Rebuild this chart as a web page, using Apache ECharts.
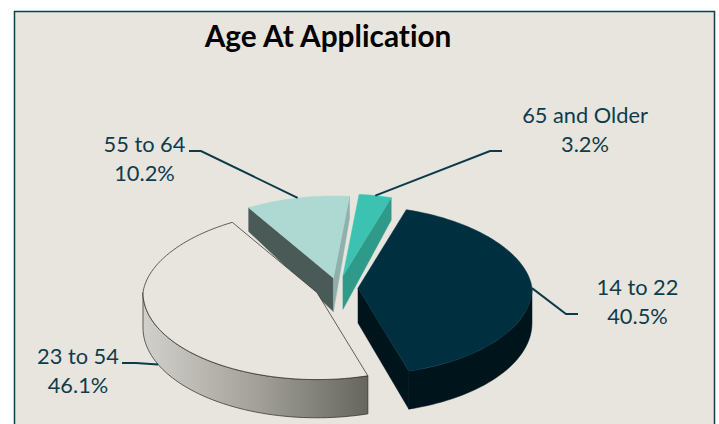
<!DOCTYPE html>
<html>
<head>
<meta charset="utf-8">
<title>Age At Application</title>
<script src="https://cdn.jsdelivr.net/npm/echarts@6/dist/echarts.min.js"></script>
<style>
    html, body { margin: 0; padding: 0; background: #ffffff; }
    #myChart { width: 719px; height: 424px; }
    /* Lato joins "ti" otherwise */
    #myChart text { font-variant-ligatures: none; }
</style>
</head>
<body>
<div id="myChart"></div>
<script>
    // clockwise from the first slice
    var categories = ['14 to 22', '23 to 54', '55 to 64', '65 and Older'];
    var shares = [40.5, 46.1, 10.2, 3.2];

    // layout of the fake 3d pie, all in px
    var pie = { cx: 338, cy: 288, rx: 174, ryBack: 82, ryFront: 87, startAngle: 17.2 };
    var explode = [20, 23, 21, 25];
    var labelPos = [[637.5, 301], [78, 370], [144.5, 158], [585, 129]];
    var elbows = [[[578, 314], [566, 314]], [[122, 363], [136, 363]], [[189, 151], [201, 151]], [[502, 151], [490, 151]]];

    var topColors = ['#003040', '#e8e5df', '#aed8d2', '#3cc2b0'];
    var wallColors = ['#00141c', null, null, null];
    var startFaceColors = [null, null, '#4a5a57', null];
    var endFaceColors = ['#00141c', null, '#8fb0ac', '#2f9a8a'];
    var lineColor = '#0b3b4b';

    var rad = Math.PI / 180;

    // slice angles, growing clockwise from 12 o'clock
    var angles = [];
    var cur = pie.startAngle;
    shares.forEach(function (v) {
        angles.push([cur, cur + v * 3.6]);
        cur += v * 3.6;
    });

    function rimPoint(c, a) {
        var s = Math.sin(a * rad), co = Math.cos(a * rad);
        // back of the pie is a bit narrower, perspective
        var shrink = 1 - 0.065 * Math.max(0, co);
        return [c[0] + pie.rx * s * shrink, c[1] - (co > 0 ? pie.ryBack : pie.ryFront) * co];
    }

    // walls get taller towards the viewer
    function drop(p) {
        var dy = p[1] - pie.cy;
        var d = dy < 0 ? 35 + dy * 0.14 : 35 + dy * 0.035;
        return [p[0], p[1] + d];
    }

    function arc(c, a0, a1) {
        var pts = [];
        var n = Math.max(2, Math.ceil((a1 - a0) / 2));
        for (var i = 0; i <= n; i++) {
            pts.push(rimPoint(c, a0 + (a1 - a0) * i / n));
        }
        return pts;
    }

    function poly(points, fill, outline) {
        return {
            type: 'polygon',
            shape: { points: points },
            style: {
                fill: fill,
                stroke: outline ? 'rgba(50,50,45,0.75)' : (typeof fill === 'string' ? fill : null),
                lineWidth: outline ? 1 : 0.5
            }
        };
    }

    function renderSlice(params, api) {
        var i = api.value(0);
        var a0 = angles[i][0], a1 = angles[i][1], mid = (a0 + a1) / 2;
        var c = [
            pie.cx + explode[i] * Math.sin(mid * rad),
            pie.cy - explode[i] * Math.cos(mid * rad) * 0.49
        ];
        var outline = i === 1;
        var children = [];
        var rim = arc(c, a0, a1);

        if (Math.sin(a0 * rad) < 0 && startFaceColors[i]) {
            var p0 = rimPoint(c, a0);
            children.push(poly([c, p0, drop(p0), drop(c)], startFaceColors[i]));
        }
        if (Math.sin(a1 * rad) > 0 && endFaceColors[i]) {
            var p1 = rimPoint(c, a1);
            children.push(poly([c, p1, drop(p1), drop(c)], endFaceColors[i]));
        }

        // outer wall, only the part turned to the viewer
        var w0 = Math.max(a0, 90), w1 = Math.min(a1, 270);
        if (w1 > w0) {
            var wallTop = arc(c, w0, w1);
            var wallBottom = wallTop.map(drop).reverse();
            var fill = wallColors[i] || new echarts.graphic.LinearGradient(0, 0, 1, 0, [
                { offset: 0, color: '#d2d0ca' },
                { offset: 0.5, color: '#a3a19a' },
                { offset: 1, color: '#66665e' }
            ]);
            children.push(poly(wallTop.concat(wallBottom), fill, outline));
        }

        children.push(poly([c].concat(rim), topColors[i], outline));

        // leader line and label
        var anchor = rimPoint(c, mid);
        if (Math.cos(mid * rad) < -0.1) anchor = drop(anchor);
        children.push({
            type: 'polyline',
            shape: { points: [elbows[i][0], elbows[i][1], anchor] },
            style: { fill: null, stroke: lineColor, lineWidth: 2 }
        });
        children.push({
            type: 'text',
            style: {
                text: categories[i] + '\n' + shares[i].toFixed(1) + '%',
                x: labelPos[i][0],
                y: labelPos[i][1],
                align: 'center',
                verticalAlign: 'middle',
                fill: '#0e3c4c',
                font: '21.8px Lato',
                lineHeight: 29.5
            }
        });
        return { type: 'group', children: children };
    }

    // painted back to front
    var drawOrder = categories.map(function (c, i) { return [i]; }).reverse();

    var myChart = echarts.init(document.getElementById('myChart'), null, { renderer: 'svg' });
    var option = {
        animation: false,
        backgroundColor: '#ffffff',
        title: {
            text: 'Age At Application',
            left: 323,
            top: 15,
            textAlign: 'center',
            textStyle: {
                color: '#000000',
                fontFamily: 'Lato',
                fontWeight: 'bold',
                fontSize: 29.8
            }
        },
        graphic: [{
            type: 'rect',
            z: -1,
            shape: { x: 14.5, y: 11.5, width: 700, height: 430 },
            style: { fill: '#e8e5df', stroke: '#0f3f4f', lineWidth: 1.5 }
        }],
        series: [{
            type: 'custom',
            coordinateSystem: 'none',
            silent: true,
            renderItem: renderSlice,
            data: drawOrder
        }]
    };
    myChart.setOption(option);
</script>
</body>
</html>
